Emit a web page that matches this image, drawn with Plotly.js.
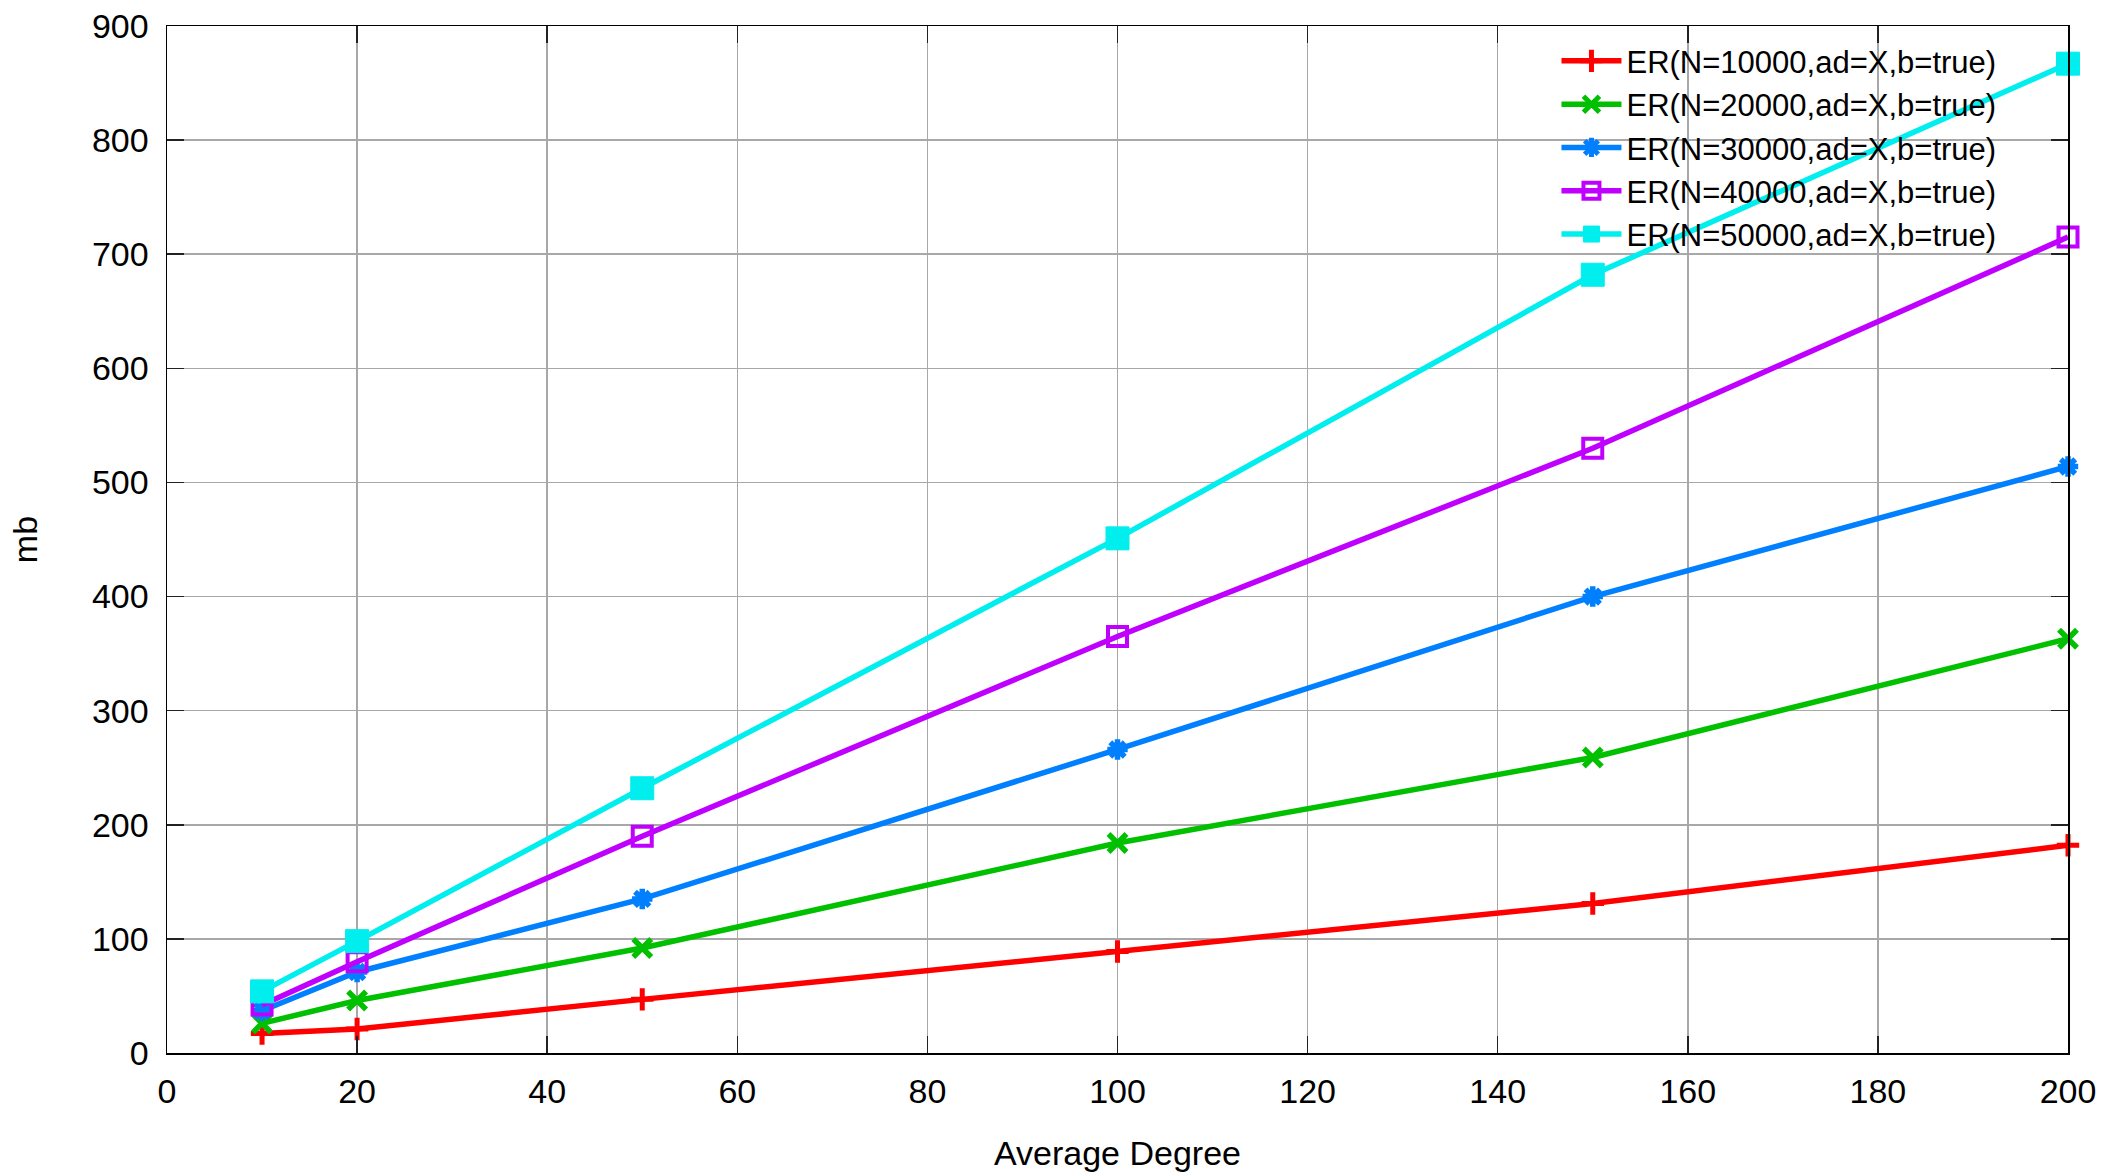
<!DOCTYPE html>
<html>
<head>
<meta charset="utf-8">
<script src="https://cdn.plot.ly/plotly-3.0.1.min.js"></script>
<style>
html, body { margin: 0; padding: 0; background: #fff; }
#chart { width: 2110px; height: 1176px; }
</style>
</head>
<body>
<div id="chart"></div>
<script>
// Data
const avgDegree = [10, 20, 50, 100, 150, 200];
const seriesNames = [
  "ER(N=10000,ad=X,b=true)",
  "ER(N=20000,ad=X,b=true)",
  "ER(N=30000,ad=X,b=true)",
  "ER(N=40000,ad=X,b=true)",
  "ER(N=50000,ad=X,b=true)"
];
const mbN10000 = [17, 21, 47, 89, 131, 182];
const mbN20000 = [26, 46, 92, 184, 259, 363];
const mbN30000 = [37, 71, 135, 266, 400, 514];
const mbN40000 = [42, 80, 190, 365, 530, 715];
const mbN50000 = [54, 98, 232, 451, 682, 867];
const xTicks = [0, 20, 40, 60, 80, 100, 120, 140, 160, 180, 200];
const yTicks = [0, 100, 200, 300, 400, 500, 600, 700, 800, 900];

const seriesValues = [mbN10000, mbN20000, mbN30000, mbN40000, mbN50000];
const colors = ["#ff0000", "#00c000", "#0080ff", "#c000ff", "#00eeee"];
const symbols = ["cross-thin-open", "x-thin-open", "asterisk-open", "square-open", "square"];
const sizes = [16, 18, 17, 19, 23];
const mlw = [5, 5.5, 5.5, 4, 1];

const FONT = "Liberation Sans, Arial, Helvetica, sans-serif";

const traces = seriesValues.map((vals, i) => ({
  type: "scatter",
  mode: "lines+markers",
  name: seriesNames[i],
  x: avgDegree,
  y: vals,
  cliponaxis: false,
  line: { color: colors[i], width: 5.5 },
  marker: {
    symbol: symbols[i],
    size: sizes[i],
    color: colors[i],
    line: { color: colors[i], width: mlw[i] }
  }
}));

const axisCommon = {
  showline: true,
  linecolor: "#000",
  linewidth: 1.5,
  mirror: "ticks",
  ticks: "inside",
  ticklen: 17,
  tickwidth: 1.5,
  tickcolor: "#222",
  showgrid: true,
  gridcolor: "#a8a8a8",
  gridwidth: 1.5,
  zeroline: false,
  tickfont: { family: FONT, size: 34, color: "#000" }
};

const layout = {
  width: 2110,
  height: 1176,
  paper_bgcolor: "#fff",
  plot_bgcolor: "#fff",
  margin: { l: 167, r: 42, t: 26, b: 123 },
  showlegend: true,
  legend: {
    x: 0.965, xanchor: "right",
    y: 0.992, yanchor: "top",
    bgcolor: "rgba(0,0,0,0)",
    borderwidth: 0,
    font: { family: FONT, size: 31, color: "#000" },
    itemwidth: 60
  },
  shapes: [{
    type: "rect", xref: "paper", yref: "paper", layer: "between",
    x0: 0.684, x1: 1, y0: 0.78, y1: 1,
    fillcolor: "#fff", line: { width: 0 }
  }],
  xaxis: Object.assign({}, axisCommon, {
    range: [0, 200],
    tickvals: xTicks,
    ticktext: xTicks.map(String),
    ticklabelstandoff: 8,
    title: { text: "Average Degree", font: { family: FONT, size: 34, color: "#000" }, standoff: 32 }
  }),
  yaxis: Object.assign({}, axisCommon, {
    range: [0, 900],
    tickvals: yTicks,
    ticktext: yTicks.map(String),
    ticklabelstandoff: 10,
    title: { text: "mb", font: { family: FONT, size: 34, color: "#000" }, standoff: 44 }
  })
};

Plotly.newPlot("chart", traces, layout, { displayModeBar: false, staticPlot: true });
</script>
</body>
</html>
